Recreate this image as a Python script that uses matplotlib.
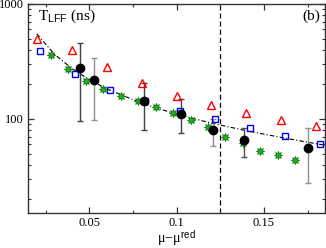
import numpy as np
import matplotlib.pyplot as plt

plt.rcParams['font.family'] = ['Liberation Serif', 'DejaVu Serif']
plt.rcParams['mathtext.fontset'] = 'custom'
plt.rcParams['mathtext.rm'] = 'Liberation Serif'
plt.rcParams['mathtext.it'] = 'Liberation Serif:italic'
plt.rcParams['mathtext.sf'] = 'Liberation Sans'

# red triangles
tri_x = [0.02, 0.04, 0.06, 0.08, 0.10, 0.12, 0.14, 0.16, 0.18]
tri_y = [493, 398, 282, 204, 159, 132, 113, 98, 86]

# blue squares
sq_x = [0.022, 0.042, 0.062, 0.082, 0.102, 0.122, 0.142, 0.162, 0.182]
sq_y = [393, 247, 179, 144, 118, 100, 83, 70.7, 60.9]

# green stars
st_x = [0.028, 0.038, 0.048, 0.058, 0.068, 0.078, 0.088, 0.098,
        0.108, 0.118, 0.128, 0.138, 0.148, 0.158, 0.168]
st_y = [360, 270, 215, 181, 159, 144, 128, 112, 98, 85, 69, 61.5, 53, 48.6, 44]

# black circles with error bars
ci_x = [0.045, 0.0525, 0.0813, 0.1026, 0.1207, 0.1387, 0.175]
ci_y = [276, 218, 142.6, 111, 80, 65.6, 55.6]
ci_top = [455, 337, 204, 148, 100, 84, 84]
ci_bot = [95.3, 98, 80, 75, 58.6, 47, 27.6]
bar_col = ['#404040', '#909090', '#404040', '#404040', '#909090', '#505050', '#909090']

# dash-dot fit curve
fit_x = [0.02, 0.03, 0.04, 0.05, 0.06, 0.08, 0.10, 0.12, 0.14, 0.16, 0.185]
fit_y = [550, 367, 275, 220, 183, 137, 110, 92, 79, 69, 59]

fig = plt.figure(figsize=(3.26, 2.48), dpi=100)
ax = fig.add_axes([0.086, 0.141, 0.911, 0.843])

ax.plot(fit_x, fit_y, color='black', lw=0.8, ls=(0, (4, 2, 1, 2)), zorder=1)
ax.axvline(0.125, color='black', lw=0.9, ls=(0, (4, 2.5)), zorder=1)

for i in range(len(ci_x)):
    ax.errorbar(ci_x[i], ci_y[i],
                yerr=[[ci_y[i] - ci_bot[i]], [ci_top[i] - ci_y[i]]],
                fmt='none', ecolor=bar_col[i], elinewidth=1.0, capsize=2.5,
                capthick=1.0, zorder=2)

ax.plot(st_x, st_y, ls='none', marker=(8, 1, 0), ms=6, mfc='#22aa22',
        mec='#007700', mew=0.5, zorder=3)
ax.plot(sq_x, sq_y, ls='none', marker='s', ms=5, mfc='none', mec='#0000ff',
        mew=1.0, zorder=4)
ax.plot(tri_x, tri_y, ls='none', marker='^', ms=5.5, mfc='none', mec='#ff0000',
        mew=1.0, zorder=4)
ax.plot(ci_x, ci_y, ls='none', marker='o', ms=6, color='black', zorder=5)

ax.set_yscale('log')
ax.set_xlim(0.015, 0.185)
ax.set_ylim(15.2, 1000)
ax.set_xticks([0.05, 0.1, 0.15])
ax.set_xticklabels(['0.05', '0.1', '0.15'])
ax.set_xticks(np.arange(0.025, 0.185, 0.025), minor=True)
ax.set_yticks([100, 1000])
ax.set_yticklabels(['100', '1000'])
ax.tick_params(which='both', direction='in', top=True, right=True, labelsize=9,
               color='#333333', pad=3)
ax.tick_params(which='major', length=4, width=0.9)
ax.tick_params(which='minor', length=2.2, width=0.8)
for s in ax.spines.values():
    s.set_color('#333333')
    s.set_linewidth(1.0)

ax.set_xlabel(r'$\mathrm{\mu\!-\!\mu}^{\mathsf{red}}$', fontsize=10, labelpad=0)
ax.text(0.035, 0.94, r'$\mathrm{T}_{\mathsf{LFF}}\ \mathrm{(ns)}$', transform=ax.transAxes,
        fontsize=11, ha='left', va='center')
ax.text(0.985, 0.94, '(b)', transform=ax.transAxes, fontsize=11,
        ha='right', va='center')

fig.savefig('out.png', dpi=100)
